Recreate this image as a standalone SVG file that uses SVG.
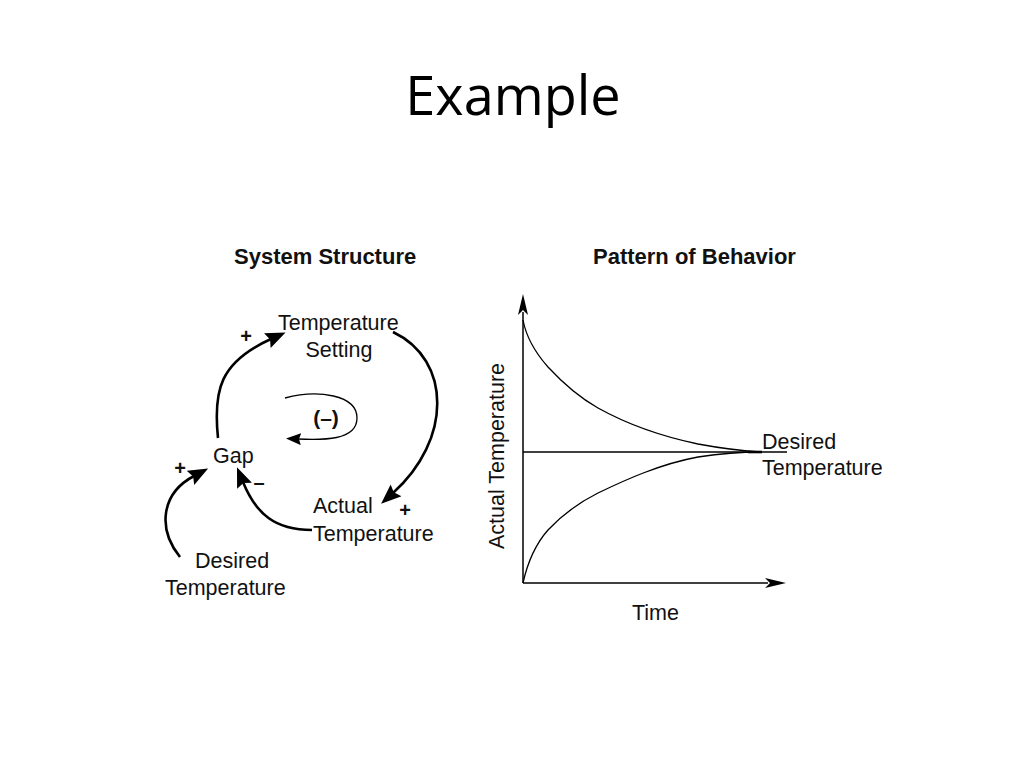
<svg xmlns="http://www.w3.org/2000/svg" width="1024" height="768" viewBox="0 0 1024 768">
<defs>
<style>
.lbl{font-family:"Liberation Sans",Arial,sans-serif;font-size:21.5px;fill:#111}
.ttl{font-family:"Liberation Sans",Arial,sans-serif;font-size:22px;font-weight:bold;fill:#111}
.sgn{font-family:"Liberation Sans",Arial,sans-serif;font-size:20px;font-weight:bold;fill:#111;text-anchor:middle}
.link{fill:none;stroke:#000;stroke-width:2.6}
.thin{fill:none;stroke:#000;stroke-width:1.3}
</style>
<marker id="ah" markerUnits="userSpaceOnUse" markerWidth="21" markerHeight="17" refX="4" refY="8" orient="auto">
<path d="M0,0 L20,8 L0,16 L3,8 z" fill="#000"/>
</marker>
<marker id="ahs" markerUnits="userSpaceOnUse" markerWidth="16" markerHeight="13" refX="3" refY="6" orient="auto">
<path d="M0,0 L15,6 L0,12 L2,6 z" fill="#000"/>
</marker>
<marker id="ax" markerUnits="userSpaceOnUse" markerWidth="22" markerHeight="10" refX="3" refY="5" orient="auto">
<path d="M0,0 L21,5 L0,10 L5,5 z" fill="#000"/>
</marker>
</defs>
<rect width="1024" height="768" fill="#fff"/>
<text x="513" y="115" text-anchor="middle" style="font-family:'Open Sans','Liberation Sans',sans-serif;font-size:54px;fill:#000">Example</text>
<text class="ttl" x="234" y="264">System Structure</text>
<text class="ttl" x="593" y="264">Pattern of Behavior</text>

<g id="connectors">
<path class="link" d="M218,438 C213,390 220,362 271,339" marker-end="url(#ah)"/>
<path class="link" d="M393,332 C452,360 452,440 393,493" marker-end="url(#ah)"/>
<path class="link" d="M312,530 C275,530 256,514 243,482" marker-end="url(#ah)"/>
<path class="link" d="M180,557 C158,530 160,494 194,476" marker-end="url(#ah)"/>
</g>

<g id="loop">
<path class="thin" d="M285,398 C318,389 357,395 357,418 C357,441 322,440 298,439" marker-end="url(#ahs)"/>
<text x="326" y="425" text-anchor="middle" style="font-family:'Liberation Sans',Arial,sans-serif;font-size:21px;font-weight:bold;fill:#111">(–)</text>
</g>

<g id="node-temperature-setting">
<text class="lbl" x="278" y="330">Temperature</text>
<text class="lbl" x="339" y="357" text-anchor="middle">Setting</text>
</g>
<g id="node-gap">
<text class="lbl" x="213" y="463">Gap</text>
</g>
<g id="node-actual-temperature">
<text class="lbl" x="313" y="513">Actual</text>
<text class="lbl" x="313" y="541">Temperature</text>
</g>
<g id="node-desired-temperature">
<text class="lbl" x="195" y="568">Desired</text>
<text class="lbl" x="165" y="595">Temperature</text>
</g>
<g id="polarity">
<text class="sgn" x="246" y="343">+</text>
<text class="sgn" x="405" y="517">+</text>
<text class="sgn" x="180" y="475">+</text>
<text class="sgn" x="259" y="489">–</text>
</g>

<g id="chart">
<line x1="523" y1="583" x2="523" y2="312" stroke="#000" stroke-width="1.5" marker-end="url(#ax)"/>
<line x1="523" y1="583" x2="768" y2="583" stroke="#000" stroke-width="1.5" marker-end="url(#ax)"/>
<line x1="523" y1="452" x2="787" y2="452" stroke="#000" stroke-width="1.3"/>
<path class="thin" d="M523,320 C526,336 533,350 548,367 C560,380 575,395 598,408 C625,423 660,436 698,444 C725,449 745,451 760,452"/>
<path class="thin" d="M523,583 C527,565 533,547 548,530 C563,514 578,503 598,493 C625,480 660,464 698,457 C725,453 745,452 760,452"/>
<line x1="748" y1="452" x2="762" y2="452" stroke="#000" stroke-width="2.6"/>
<text class="lbl" x="504" y="456" text-anchor="middle" transform="rotate(-90 504 456)">Actual Temperature</text>
<text class="lbl" x="632" y="620">Time</text>
<text class="lbl" x="762" y="449">Desired</text>
<text class="lbl" x="762" y="475">Temperature</text>
</g>
</svg>
